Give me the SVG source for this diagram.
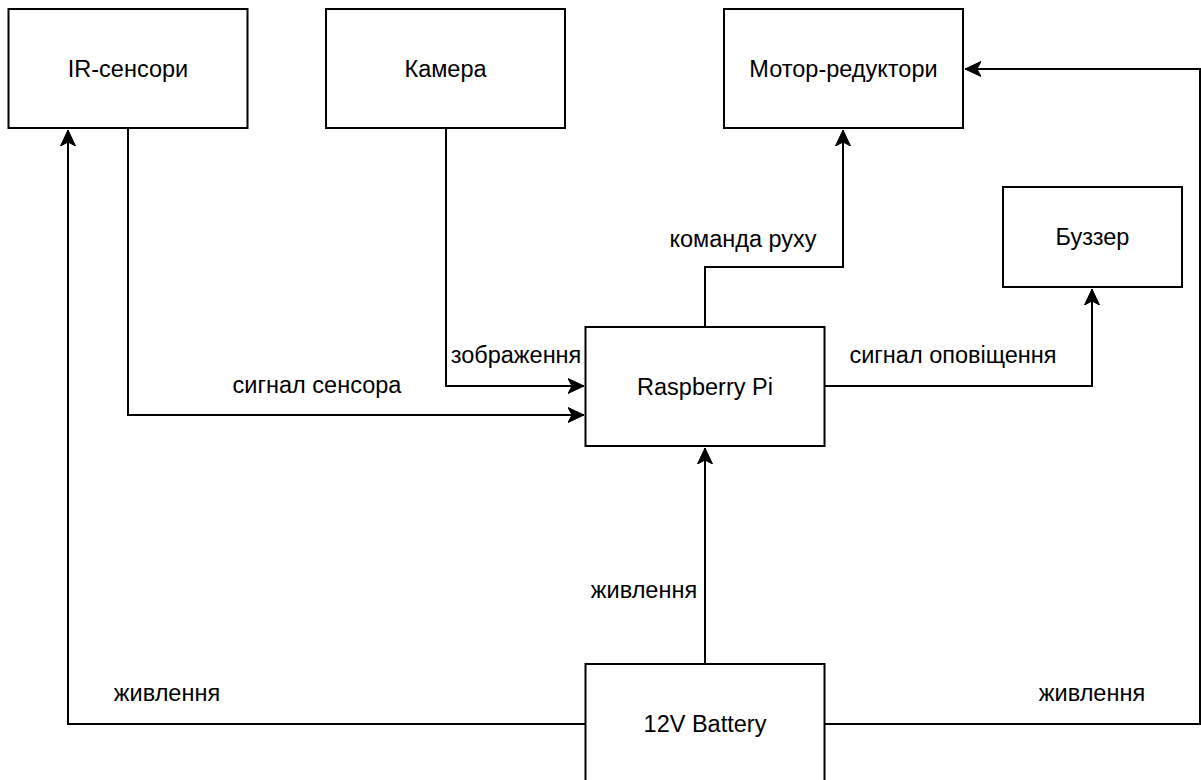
<svg xmlns="http://www.w3.org/2000/svg" width="1201" height="780" viewBox="0 0 1201 780">
<style>
.box{fill:#fff;stroke:#000;stroke-width:2}
.lbl{font-family:"Liberation Sans",Arial,Helvetica,sans-serif;font-size:23.5px;fill:#000;text-anchor:middle}
.edge{fill:none;stroke:#000;stroke-width:2;marker-end:url(#arr)}
.line{fill:none;stroke:#000;stroke-width:2}
</style>
<defs>
<marker id="arr" markerUnits="userSpaceOnUse" viewBox="0 0 16 16" refX="16" refY="8" markerWidth="16" markerHeight="16" orient="auto">
<path d="M16,8 L0,0.5 L4,8 L0,15.5 Z" fill="#000" stroke="#000" stroke-width="1"/>
</marker>
</defs>
<rect width="1201" height="780" fill="#fff"/>
<g id="connectors">
<path class="edge" d="M585,724 H68 V130"/>
<path class="edge" d="M128,128 V415 H584"/>
<path class="edge" d="M446,128 V386 H584"/>
<path class="edge" d="M705,327 V267 H843 V130"/>
<path class="edge" d="M824,386 H1092 V289"/>
<path class="edge" d="M705,664 V448"/>
<path class="edge" d="M824,724 H1200 V69 H965"/>
<text class="lbl" x="516" y="363">зображення</text>
<text class="lbl" x="317" y="393">сигнал сенсора</text>
<text class="lbl" x="953" y="363">сигнал оповіщення</text>
<text class="lbl" x="743" y="247">команда руху</text>
<text class="lbl" x="644" y="598">живлення</text>
<text class="lbl" x="167" y="701">живлення</text>
<text class="lbl" x="1092" y="701">живлення</text>
</g>
<g id="ir">
<rect class="box" x="8.5" y="9" width="239" height="119"/>
<text class="lbl" x="128" y="77">IR-сенсори</text>
</g>
<g id="camera">
<rect class="box" x="326" y="9" width="239" height="119"/>
<text class="lbl" x="445.5" y="77">Камера</text>
</g>
<g id="motor">
<rect class="box" x="724" y="9" width="239" height="119"/>
<text class="lbl" x="843.5" y="77">Мотор-редуктори</text>
</g>
<g id="buzzer">
<rect class="box" x="1003" y="187" width="179" height="100"/>
<text class="lbl" x="1092.5" y="245">Буззер</text>
</g>
<g id="raspberry">
<rect class="box" x="585.5" y="327" width="239" height="119"/>
<text class="lbl" x="705" y="395">Raspberry Pi</text>
</g>
<g id="battery">
<rect class="box" x="585.5" y="664" width="239" height="140"/>
<text class="lbl" x="705" y="732">12V Battery</text>
</g>
</svg>
